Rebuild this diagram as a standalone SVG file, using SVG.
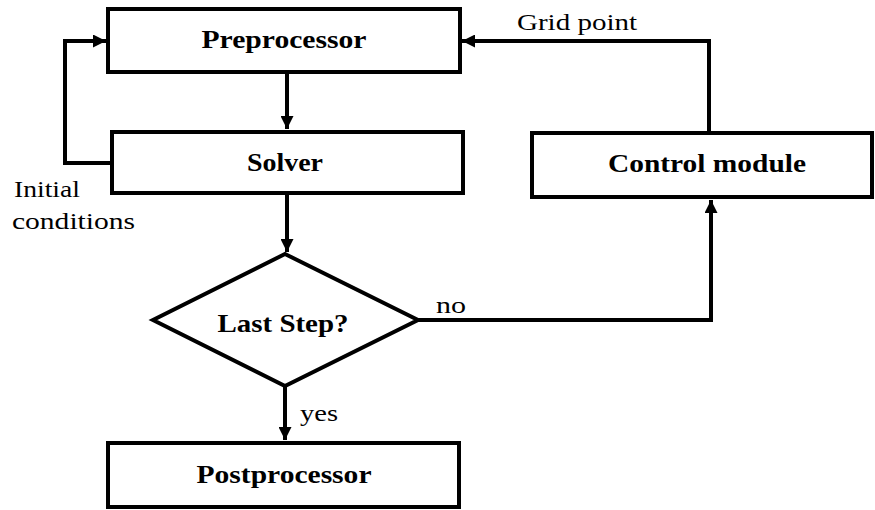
<svg xmlns="http://www.w3.org/2000/svg" width="875" height="510" viewBox="0 0 875 510">
<style>
.box{fill:#fff;stroke:#000;stroke-width:4}
.lbl{font-family:'Liberation Serif','Times New Roman',Times,serif;font-weight:bold;font-size:25px;fill:#000}
.txt{font-family:'Liberation Serif','Times New Roman',Times,serif;font-size:24px;fill:#000}
.ln{fill:none;stroke:#000;stroke-width:4}
</style>
<defs>
<marker id="ah" markerWidth="13" markerHeight="13" refX="10" refY="5" orient="auto" markerUnits="userSpaceOnUse" viewBox="0 0 10 10">
<path d="M0,0 L10,5 L0,10 z" fill="#000"/>
</marker>
</defs>
<g id="connectors">
<path class="ln" d="M287,72 L287,129" marker-end="url(#ah)"/>
<path class="ln" d="M112,163 L65,163 L65,41 L106,41" marker-end="url(#ah)"/>
<path class="ln" d="M287,193 L287,252" marker-end="url(#ah)"/>
<path class="ln" d="M285,386 L285,440" marker-end="url(#ah)"/>
<path class="ln" d="M418,320 L711,320 L711,200" marker-end="url(#ah)"/>
<path class="ln" d="M709,132 L709,41 L462,41" marker-end="url(#ah)"/>
</g>
<g id="preprocessor">
<rect class="box" x="108" y="9" width="352" height="63"/>
<text class="lbl" font-family="Liberation Serif" x="284" y="48" text-anchor="middle" textLength="165" lengthAdjust="spacingAndGlyphs">Preprocessor</text>
</g>
<g id="solver">
<rect class="box" x="112" y="132" width="351" height="61"/>
<text class="lbl" x="285" y="171" text-anchor="middle" textLength="76" lengthAdjust="spacingAndGlyphs">Solver</text>
</g>
<g id="control">
<rect class="box" x="532" y="133" width="340" height="64"/>
<text class="lbl" x="707" y="172" text-anchor="middle" textLength="198" lengthAdjust="spacingAndGlyphs">Control module</text>
</g>
<g id="decision">
<polygon class="box" stroke-width="3.5" points="285,254 418,320 285,386 153,320"/>
<text class="lbl" x="283" y="332" text-anchor="middle" textLength="131" lengthAdjust="spacingAndGlyphs">Last Step?</text>
</g>
<g id="postprocessor">
<rect class="box" x="108" y="443" width="351" height="64"/>
<text class="lbl" x="284" y="483" text-anchor="middle" textLength="175" lengthAdjust="spacingAndGlyphs">Postprocessor</text>
</g>
<g id="labels">
<text class="txt" x="517" y="30" textLength="120" lengthAdjust="spacingAndGlyphs">Grid point</text>
<text class="txt" x="436" y="313" textLength="30" lengthAdjust="spacingAndGlyphs">no</text>
<text class="txt" x="300" y="421" textLength="38" lengthAdjust="spacingAndGlyphs">yes</text>
<text class="txt" x="14" y="197" textLength="66" lengthAdjust="spacingAndGlyphs">Initial</text>
<text class="txt" x="12" y="229" textLength="123" lengthAdjust="spacingAndGlyphs">conditions</text>
</g>
</svg>
